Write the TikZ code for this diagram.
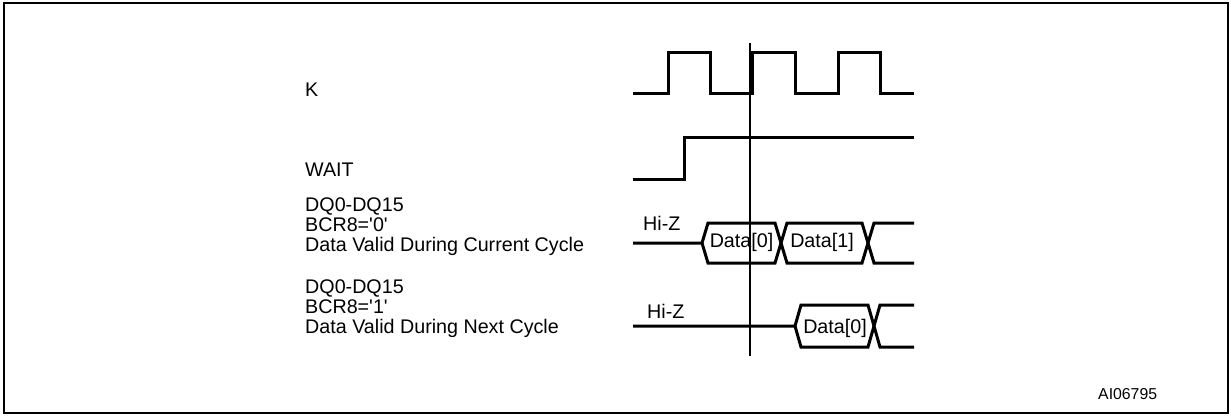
\documentclass[tikz,border=0pt]{standalone}
\usepackage{fontspec}
\setmainfont{Liberation Sans}
\begin{document}
\begin{tikzpicture}[x=1pt,y=-1pt,
  wave/.style={line width=3pt,line join=miter,line cap=butt},
  lbl/.style={font=\fontsize{19.7}{20}\selectfont,inner sep=0pt,align=left},
  buslbl/.style={font=\fontsize{19.7}{20}\selectfont,inner sep=0pt,anchor=base}]
\useasboundingbox (0,0) rectangle (1231,415);
\draw[line width=2pt] (3.5,2.5) rectangle (1227.5,413);
% labels
\node[lbl,anchor=base west] (k) at (305,96) {K};
\node[lbl,anchor=base west] (wait) at (305,176) {WAIT};
\node[lbl,anchor=base west] (dq0) at (305,251) {DQ0-DQ15\\BCR8=\textquotesingle0\textquotesingle\\Data Valid During Current Cycle};
\node[lbl,anchor=base west] (dq1) at (305,333) {DQ0-DQ15\\BCR8=\textquotesingle1\textquotesingle\\Data Valid During Next Cycle};
% K clock
\draw[wave] (633,93) -- (668,93) -- (668,52) -- (710,52) -- (710,93) -- (752,93) -- (752,52)
  -- (795,52) -- (795,93) -- (838,93) -- (838,52) -- (880,52) -- (880,93) -- (914,93);
% WAIT
\draw[wave] (633,179) -- (684,179) -- (684,137) -- (914,137);
% DQ row 1
\node[lbl,anchor=base west] (hz1) at (643,230) {Hi-Z};
\draw[wave] (633,243) -- (702,243) -- (708,223) -- (775,223) -- (787,263) -- (862,263) -- (874,223) -- (914,223);
\draw[wave] (702,243) -- (708,263) -- (775,263) -- (787,223) -- (862,223) -- (874,263) -- (914,263);
\node[buslbl] (d10) at (741.5,247) {Data[0]};
\node[buslbl] (d11) at (822,247) {Data[1]};
% DQ row 2
\node[lbl,anchor=base west] (hz2) at (647,318) {Hi-Z};
\draw[wave] (633,326) -- (795,326) -- (801,305) -- (868,305) -- (880,347) -- (914,347);
\draw[wave] (795,326) -- (801,347) -- (868,347) -- (880,305) -- (914,305);
\node[buslbl] (d20) at (835,333) {Data[0]};
% reference line
\coordinate (vt) at (750,43);
\coordinate (vb) at (750,356);
\draw[line width=1.4pt] (vt) -- (vb);
% figure id
\node[font=\fontsize{15.8}{18}\selectfont,inner sep=0pt,anchor=base west] (id) at (1098,399) {AI06795};
\end{tikzpicture}
\end{document}
